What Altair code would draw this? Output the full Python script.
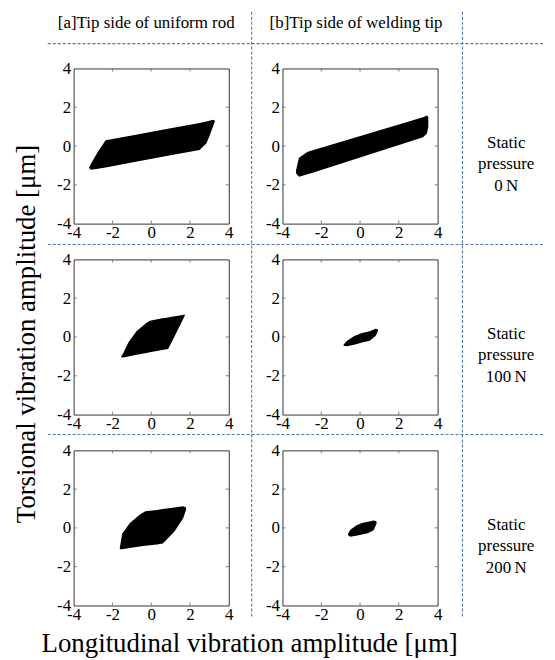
import altair as alt
import pandas as pd

# ---------------- data ----------------
col_headers = ["[a]Tip side of uniform rod", "[b]Tip side of welding tip"]
row_labels = ["Static\npressure\n0\u2009N", "Static\npressure\n100\u2009N", "Static\npressure\n200\u2009N"]
x_title = "Longitudinal vibration amplitude [\u03bcm]"
y_title = "Torsional vibration amplitude [\u03bcm]"
tick_values = [-4, -2, 0, 2, 4]
minor_ticks = [-2, 0, 2]

# each trajectory envelope: x positions, lower and upper boundary (um)
a0_x  = [-3.2, -3.1, -2.75, -2.35, -1.0, 1.0, 2.5, 2.85, 3.0, 3.2, 3.28]
a0_lo = [-1.15, -1.22, -1.17, -1.10, -0.85, -0.48, -0.20, 0.14, 0.50, 1.05, 1.25]
a0_hi = [-1.10, -0.90, -0.30, 0.30, 0.55, 0.92, 1.19, 1.26, 1.30, 1.35, 1.30]

b0_x  = [-3.3, -3.15, -2.7, -2.4, 3.25, 3.45, 3.52]
b0_lo = [-1.40, -1.58, -1.45, -1.36, 0.45, 0.65, 1.00]
b0_hi = [-1.25, -0.60, -0.30, -0.20, 1.48, 1.58, 1.50]

a1_x  = [-1.55, -1.45, -1.18, -0.75, -0.24, -0.07, 0.5, 0.87, 1.13, 1.47, 1.73]
a1_lo = [-1.04, -1.06, -1.00, -0.92, -0.82, -0.79, -0.69, -0.62, -0.12, 0.56, 1.10]
a1_hi = [-1.00, -0.85, -0.29, 0.31, 0.73, 0.84, 0.95, 1.01, 1.05, 1.11, 1.16]

b1_x  = [-0.85, -0.7, -0.3, 0.1, 0.5, 0.8, 0.92]
b1_lo = [-0.45, -0.48, -0.40, -0.28, -0.20, 0.05, 0.30]
b1_hi = [-0.40, -0.22, 0.05, 0.20, 0.30, 0.42, 0.40]

a2_x  = [-1.62, -1.5, -1.1, -0.6, -0.3, 0.3, 0.6, 1.2, 1.65, 1.8]
a2_lo = [-1.10, -1.10, -1.04, -0.96, -0.92, -0.86, -0.80, -0.18, 0.50, 0.95]
a2_hi = [-1.05, -0.30, 0.25, 0.68, 0.86, 0.93, 0.97, 1.05, 1.12, 1.05]

b2_x  = [-0.62, -0.5, -0.2, 0.1, 0.4, 0.7, 0.85]
b2_lo = [-0.38, -0.45, -0.40, -0.34, -0.27, -0.12, 0.22]
b2_hi = [-0.30, -0.10, 0.12, 0.25, 0.32, 0.38, 0.35]

# ---------------- styling ----------------
W, H = 156, 156
FONT = "Liberation Serif"
BLUE = "#4f76b2"
DASH = [3, 2]
LBL = dict(labelFont=FONT, labelFontSize=17, labelColor="black",
           domain=False, ticks=False, grid=False, title=None, values=tick_values)

xscale = alt.Scale(domain=[-4, 4], nice=False, zero=False)
yscale = alt.Scale(domain=[-4, 4], nice=False, zero=False)

x_axis = alt.Axis(labelFlush=False, labelPadding=1,
                  labelExpr="datum.value < 0 ? '-' + abs(datum.value) + ' ' : '' + datum.value", **LBL)
y_axis = alt.Axis(labelPadding=3,
                  labelExpr="datum.value < 0 ? '-' + abs(datum.value) : '' + datum.value", **LBL)

one = pd.DataFrame({"k": [0]})


def text_layer(txt, x, y, size, angle=0, line_height=None):
    kw = dict(font=FONT, fontSize=size, color="black", align="center", baseline="middle")
    if angle:
        kw["angle"] = angle
    if line_height:
        kw["lineBreak"] = "\n"
        kw["lineHeight"] = line_height
    return alt.Chart(pd.DataFrame({"t": [txt]})).mark_text(**kw).encode(
        x=alt.value(x), y=alt.value(y), text="t:N")


def hrule(x1, x2, y):
    return alt.Chart(one).mark_rule(color=BLUE, strokeDash=DASH, strokeWidth=1.1).encode(
        x=alt.value(x1), x2=alt.value(x2), y=alt.value(y))


def vrule(x, y1, y2):
    return alt.Chart(one).mark_rule(color=BLUE, strokeDash=DASH, strokeWidth=1.1).encode(
        x=alt.value(x), y=alt.value(y1), y2=alt.value(y2))


def panel(xs, lo, hi, extras=()):
    df = pd.DataFrame({"x": xs, "lo": lo, "hi": hi})
    shape = alt.Chart(df).mark_area(color="black", interpolate="linear").encode(
        x=alt.X("x:Q", scale=xscale, axis=x_axis),
        y=alt.Y("lo:Q", scale=yscale, axis=y_axis),
        y2="hi:Q",
    )
    tdf = pd.DataFrame({"v": minor_ticks})
    tick = dict(color="#777", strokeWidth=1)
    tx_b = alt.Chart(tdf).mark_rule(**tick).encode(
        x=alt.X("v:Q", scale=xscale, axis=x_axis), y=alt.value(H), y2=alt.value(H - 3))
    tx_t = alt.Chart(tdf).mark_rule(**tick).encode(
        x=alt.X("v:Q", scale=xscale, axis=x_axis), y=alt.value(0), y2=alt.value(3))
    ty_l = alt.Chart(tdf).mark_rule(**tick).encode(
        y=alt.Y("v:Q", scale=yscale, axis=y_axis), x=alt.value(0), x2=alt.value(3))
    ty_r = alt.Chart(tdf).mark_rule(**tick).encode(
        y=alt.Y("v:Q", scale=yscale, axis=y_axis), x=alt.value(W), x2=alt.value(W - 3))
    return alt.layer(shape, tx_b, tx_t, ty_l, ty_r, *extras).properties(width=W, height=H)


# decorations hosted by panels (pixel offsets relative to the host plot area)
deco_a0 = [
    alt.Chart(one).mark_rule(color="white", strokeWidth=1).encode(
        x=alt.value(-65), x2=alt.value(-64), y=alt.value(-57)),
    hrule(-26, 474, -25), hrule(-26, 474, 177), hrule(-26, 474, 368),
    vrule(179, -57, 551), vrule(391, -57, 551),
    text_layer(col_headers[0], 73, -46, 17),
    text_layer(y_title, -47, 267, 27, angle=270),
]
deco_b0 = [text_layer(col_headers[1], 74, -46, 17),
           text_layer(row_labels[0], 225, 75, 17, line_height=21.5)]
deco_b1 = [text_layer(row_labels[1], 225, 75, 17, line_height=21.5)]
deco_b2 = [text_layer(row_labels[2], 225, 75, 17, line_height=21.5)]
deco_a2 = [text_layer(x_title, 177, 195, 27)]

p_a0 = panel(a0_x, a0_lo, a0_hi, deco_a0)
p_b0 = panel(b0_x, b0_lo, b0_hi, deco_b0)
p_a1 = panel(a1_x, a1_lo, a1_hi)
p_b1 = panel(b1_x, b1_lo, b1_hi, deco_b1)
p_a2 = panel(a2_x, a2_lo, a2_hi, deco_a2)
p_b2 = panel(b2_x, b2_lo, b2_hi, deco_b2)

chart = alt.concat(
    p_a0, p_b0, p_a1, p_b1, p_a2, p_b2,
    columns=2, spacing={"row": 36, "column": 54}, bounds="flush",
).properties(padding=0).configure_view(
    stroke="#333", strokeWidth=1
).configure_axis(
    domain=False, ticks=False, grid=False,
    labelFont=FONT, labelFontSize=17, labelColor="black",
)

chart.save("out.html", embed_options={"renderer": "svg", "actions": False})
